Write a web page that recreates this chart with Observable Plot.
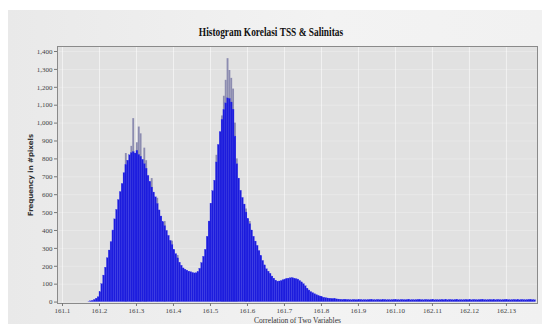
<!DOCTYPE html>
<html>
<head>
<meta charset="utf-8">
<script src="https://cdn.jsdelivr.net/npm/d3@7"></script>
<script src="https://cdn.jsdelivr.net/npm/@observablehq/plot@0.6"></script>
<style>
  html, body { margin: 0; padding: 0; background: #ffffff; }
  #wrap { position: relative; width: 542px; height: 324px; overflow: hidden; background: #ffffff; }
  #panel { position: absolute; left: 8px; top: 10px; width: 534px; height: 314px;
           background: linear-gradient(to right, #e9e9e9, #f3f3f3 60%, #f1f1f1); }
  #title { position: absolute; left: 0; top: 25px; width: 542px; text-align: center;
           font-family: "Liberation Serif", serif; font-weight: bold; font-size: 12px; color: #111;
           transform: scaleX(0.78); transform-origin: 271px 0; white-space: nowrap; }
  #chart { position: absolute; left: 0; top: 40px; }
  #chart svg g[aria-label="y-axis label"] text { font-weight: bold; font-family: "DejaVu Sans", sans-serif; font-size: 7px; fill: #333; }
  #chart svg g[aria-label="x-axis label"] text { font-size: 7.5px; fill: #333; }
</style>
</head>
<body>
<div id="wrap">
  <div id="panel"></div>
  <div id="title">Histogram Korelasi TSS &amp; Salinitas</div>
  <div id="chart"></div>
</div>
<script>
// histogram bins (position in tick units along the x axis)
const binStart = 0.7;
const binWidth = 0.05;
const frequency = [
  1, 4, 7, 12, 19, 27, 55, 100, 148, 192,
  245, 288, 335, 400, 462, 515, 570, 615, 660, 720,
  765, 790, 820, 832, 838, 830, 845, 822, 812, 795,
  770, 745, 705, 672, 640, 612, 585, 548, 512, 478,
  446, 424, 398, 370, 342, 318, 292, 268, 244, 220,
  203, 188, 181, 176, 170, 167, 163, 160, 161, 168,
  186, 218, 253, 292, 365, 450, 550, 620, 678, 780,
  878, 950, 1018, 1072, 1110, 1138, 1135, 1115, 1075, 925,
  770, 690, 622, 582, 545, 500, 465, 435, 400, 365,
  338, 314, 285, 258, 230, 205, 183, 170, 158, 143,
  131, 120, 114, 115, 118, 122, 126, 130, 131, 133,
  134, 131, 128, 126, 118, 110, 100, 88, 75, 65,
  56, 50, 44, 39, 35, 31, 27, 24, 22, 20,
  19, 18, 17, 16, 15, 14, 13, 12, 13, 11,
  12, 11, 10, 12, 11, 10, 11, 12, 10, 11,
  10, 11, 12, 10, 11, 10, 12, 11, 10, 11,
  12, 10, 11, 10, 11, 12, 10, 11, 10, 12,
  11, 10, 11, 12, 10, 11, 10, 11, 12, 10,
  11, 10, 12, 11, 10, 11, 12, 10, 11, 10,
  11, 12, 10, 11, 10, 12, 11, 10, 11, 12,
  10, 11, 10, 11, 12, 10, 11, 10, 12, 11,
  10, 11, 12, 10, 11, 10, 11, 12, 10, 11,
  10, 12, 11, 10, 11, 12, 10, 11, 10, 11,
  12, 10, 11, 10, 12, 11, 10, 11, 12, 10,
  11, 10
];
// taller single-bin spikes (drawn grey behind the blue bars)
const spikeBin   = [20, 23, 24, 26, 27, 28, 30, 31, 34, 37, 41, 45, 48, 69, 72, 73, 74, 75, 76, 77, 78, 79, 80, 85, 87];
const spikeValue = [830, 870, 1025, 890, 978, 940, 860, 790, 690, 580, 450, 340, 260, 820, 1040, 1150, 1239, 1360, 1294, 1250, 1190, 1000, 800, 520, 450];

const xTickLabels = ["161.1", "161.2", "161.3", "161.4", "161.5", "161.6", "161.7", "161.8", "161.9", "161.10", "162.11", "162.12", "162.13"];
const yTicks = [0, 100, 200, 300, 400, 500, 600, 700, 800, 900, 1000, 1100, 1200, 1300, 1400];

const bars = frequency.map((v, i) => ({x1: binStart + i * binWidth, x2: binStart + (i + 1) * binWidth, v}));
const spikes = spikeBin.map((b, k) => ({x1: binStart + b * binWidth, x2: binStart + (b + 1) * binWidth, v: spikeValue[k]}));
const xTickPos = xTickLabels.map((_, i) => i);

const chart = Plot.plot({
  width: 542,
  height: 284,
  marginLeft: 57,
  marginRight: 5,
  marginTop: 6,
  marginBottom: 21,
  style: {background: "transparent", fontFamily: "'Liberation Serif', serif", fontSize: "7px", color: "#444"},
  x: {domain: [-0.135, 12.84]},
  y: {domain: [-8, 1428]},
  marks: [
    Plot.frame({fill: "#e1e1e1", stroke: null}),
    Plot.gridX(xTickPos, {stroke: "#ffffff", strokeOpacity: 0.55}),
    Plot.gridY(yTicks, {stroke: "#ffffff", strokeOpacity: 0.25}),
    Plot.rect(spikes, {x1: "x1", x2: "x2", y1: 0, y2: "v", fill: "#8c8cb0"}),
    Plot.rect(bars, {x1: "x1", x2: "x2", y1: 0, y2: "v", fill: "#1c1cdc", stroke: "#3434ee", strokeWidth: 0.25}),
    Plot.frame({stroke: "#8a8a8a", strokeWidth: 1}),
    Plot.axisY({ticks: yTicks, tickFormat: d3.format(","), tickSize: 3, tickPadding: 2, stroke: "#777",
                label: "Frequency in #pixels", labelAnchor: "center", labelArrow: "none", labelOffset: 29}),
    Plot.axisX({ticks: xTickPos, tickFormat: i => xTickLabels[i], tickSize: 3, tickPadding: 2, stroke: "#777",
                label: "Correlation of Two Variables", labelAnchor: "center", labelArrow: "none", labelOffset: 19})
  ]
});
document.getElementById("chart").appendChild(chart);
</script>
</body>
</html>
